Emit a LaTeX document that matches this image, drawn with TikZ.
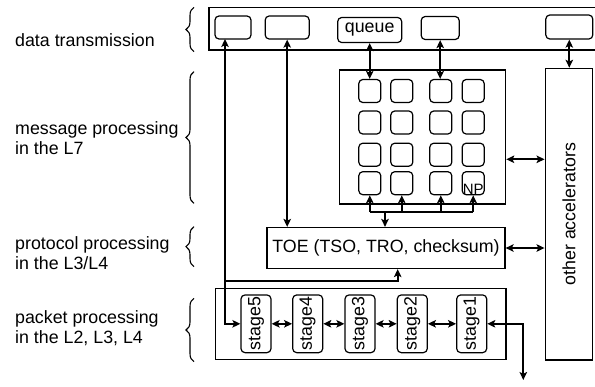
\documentclass[tikz,border=0pt]{standalone}
\usepackage{fontspec}
\usepackage{graphicx}
\setmainfont{Liberation Sans}
\usetikzlibrary{arrows.meta,decorations.pathreplacing}

\begin{document}
\begin{tikzpicture}[x = 1pt, y = -1pt,
                    font = \fontsize{17.8}{20}\selectfont,
                    > = {Stealth[length = 8pt, width = 7.5pt, inset = 1.8pt]},
                    frame/.style = {draw,
                                    line width = 1.2pt,
                                    inner sep = 0pt},
                    rbox/.style = {draw,
                                   line width = 1.2pt,
                                   rounded corners = 4pt,
                                   inner sep = 0pt},
                    link/.style = {line width = 1.8pt},
                    layer/.style = {decorate,
                                    decoration = {brace, amplitude = 8pt},
                                    line width = 1.1pt},
                    lbl/.style = {anchor = west,
                                  align = left,
                                  inner sep = 0pt}]
	\useasboundingbox (0,0) rectangle (595,386);

	\node[lbl] (l1) at (15,40) {data transmission};
	\node[lbl] (l2) at (15,138) {message processing\\in the L7};
	\node[lbl] (l3) at (15,253) {protocol processing\\in the L3/L4};
	\node[lbl] (l4) at (15,328) {packet processing\\in the L2, L3, L4};

	\draw[layer] (194,51.7) -- (194,7.3);
	\draw[layer] (194,203.3) -- (194,71.7);
	\draw[layer] (194,266.7) -- (194,226.7);
	\draw[layer] (194,361.7) -- (194,298.3);

	\node[frame, minimum width = 390, minimum height = 42.7] (bar) at (404,28.7) {};
	\node[rbox, minimum width = 36, minimum height = 23] (t1) at (233,27.5) {};
	\node[rbox, minimum width = 44, minimum height = 23] (t2) at (287.2,27.5) {};
	\node[rbox, minimum width = 64, minimum height = 25] (queue) at (369.7,30) {queue};
	\node[rbox, minimum width = 38, minimum height = 23] (t4) at (440.2,28) {};
	\node[rbox, minimum width = 47, minimum height = 24] (t5) at (569.3,27) {};

	\node[frame, minimum width = 166.4, minimum height = 134] (grid) at (422.5,137) {};
	\foreach \c/\x in {1/369.8, 2/401.8, 3/440.8, 4/473.2}
		\foreach \r/\y in {1/91, 2/122.5, 3/154.7, 4/183.2}
			\node[rbox, minimum width = 22, minimum height = 23] (n-\r-\c) at (\x,\y) {};
	\node[anchor = south, inner sep = 0.5pt, font = \fontsize{15}{15}\selectfont] (np) at (n-4-4.south) {NP};

	\node[frame, minimum width = 238, minimum height = 41] (toe) at (386,248) {TOE (TSO, TRO, checksum)};
	\node[frame, minimum width = 47.7, minimum height = 291.7] (acc) at (569,214.2) {\rotatebox{90}{other accelerators}};

	\node[frame, minimum width = 290.3, minimum height = 71] (pipe) at (360.8,323.8) {};
	\foreach \i/\x in {5/256, 4/307.7, 3/360, 2/412.3, 1/471.7}
		\node[rbox, minimum width = 30, minimum height = 57.7] (stage\i) at (\x,323.8) {\rotatebox{90}{stage\i}};

	\coordinate (t1s) at (225,39);
	\coordinate (br) at (225,280.7);
	\coordinate (ga) at (0,159.3);
	\coordinate (bus) at (0,211.7);
	\coordinate (busdn) at (385,211.7);
	\coordinate (out) at (523.3,380);

	\draw[link, <->] (t1s) |- (stage5.west);
	\draw[link, ->] (br) -| ([xshift = 11.7pt]toe.south);
	\draw[link, <->] (t2.south) -- (t2.south |- toe.north);
	\draw[link, <->] (queue.south) -- (queue.south |- n-1-1.north);
	\draw[link, <->] (t4.south) -- (t4.south |- n-1-3.north);
	\draw[link, <->] (t5.south) -- (t5.south |- acc.north);

	\draw[link] (n-4-1.south |- bus) -- (n-4-4.south |- bus);
	\foreach \c in {1,2,3,4}
		\draw[link, ->] (n-4-\c.south |- bus) -- (n-4-\c.south);
	\draw[link, ->] (busdn) -- (busdn |- toe.north);

	\draw[link, <->] (grid.east |- ga) -- (acc.west |- ga);
	\draw[link, <->] (toe.east) -- (toe.east -| acc.west);

	\foreach \a/\b in {5/4, 4/3, 3/2, 2/1}
		\draw[link, <->] (stage\a) -- (stage\b);
	\draw[link, <->] (stage1.east) -| (out);
\end{tikzpicture}
\end{document}
